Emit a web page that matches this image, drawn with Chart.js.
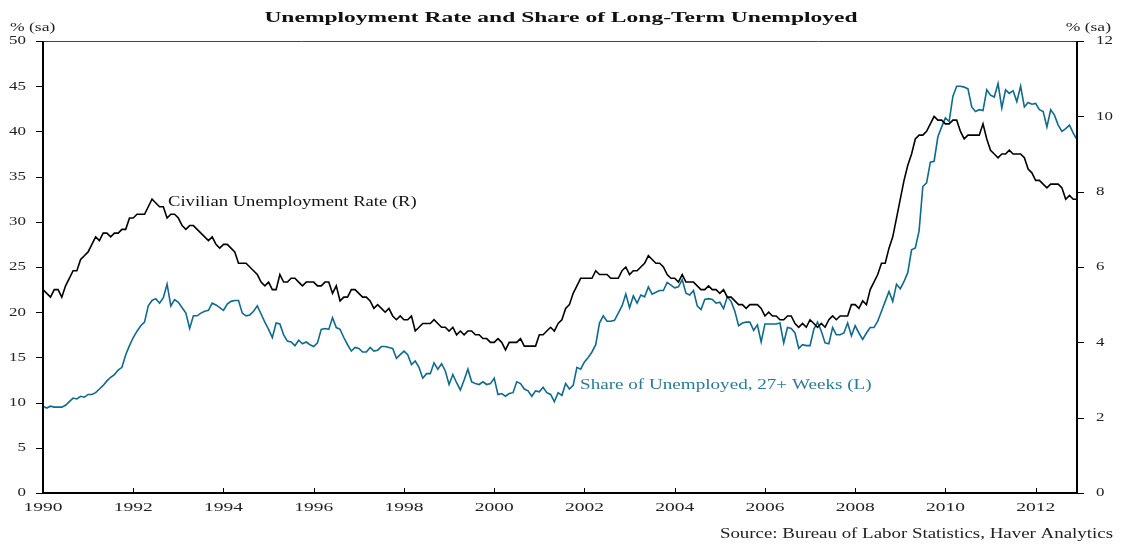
<!DOCTYPE html>
<html>
<head>
<meta charset="utf-8">
<title>Unemployment Rate and Share of Long-Term Unemployed</title>
<script src="https://cdn.jsdelivr.net/npm/chart.js@4.4.0/dist/chart.umd.min.js"></script>
<style>
  html, body { margin: 0; padding: 0; background: #fff; }
  #wrap { width: 1123px; height: 545px; }
</style>
</head>
<body>
<div id="wrap"><canvas id="chart" width="1123" height="545"></canvas></div>
<script>
// monthly data, Jan 1990 - Dec 2012
const startYear = 1990;
const yearTicks = [1990, 1992, 1994, 1996, 1998, 2000, 2002, 2004, 2006, 2008, 2010, 2012];
const leftTicks = [0, 5, 10, 15, 20, 25, 30, 35, 40, 45, 50];
const rightTicks = [0, 2, 4, 6, 8, 10, 12];

// Civilian unemployment rate, % (right axis)
const unemploymentRate = [
  5.4, 5.3, 5.2, 5.4, 5.4, 5.2, 5.5, 5.7, 5.9, 5.9, 6.2, 6.3,
  6.4, 6.6, 6.8, 6.7, 6.9, 6.9, 6.8, 6.9, 6.9, 7.0, 7.0, 7.3,
  7.3, 7.4, 7.4, 7.4, 7.6, 7.8, 7.7, 7.6, 7.6, 7.3, 7.4, 7.4,
  7.3, 7.1, 7.0, 7.1, 7.1, 7.0, 6.9, 6.8, 6.7, 6.8, 6.6, 6.5,
  6.6, 6.6, 6.5, 6.4, 6.1, 6.1, 6.1, 6.0, 5.9, 5.8, 5.6, 5.5,
  5.6, 5.4, 5.4, 5.8, 5.6, 5.6, 5.7, 5.7, 5.6, 5.5, 5.6, 5.6,
  5.6, 5.5, 5.5, 5.6, 5.6, 5.3, 5.5, 5.1, 5.2, 5.2, 5.4, 5.4,
  5.3, 5.2, 5.2, 5.1, 4.9, 5.0, 4.9, 4.8, 4.9, 4.7, 4.6, 4.7,
  4.6, 4.6, 4.7, 4.3, 4.4, 4.5, 4.5, 4.5, 4.6, 4.5, 4.4, 4.4,
  4.3, 4.4, 4.2, 4.3, 4.2, 4.3, 4.3, 4.2, 4.2, 4.1, 4.1, 4.0,
  4.0, 4.1, 4.0, 3.8, 4.0, 4.0, 4.0, 4.1, 3.9, 3.9, 3.9, 3.9,
  4.2, 4.2, 4.3, 4.4, 4.3, 4.5, 4.6, 4.9, 5.0, 5.3, 5.5, 5.7,
  5.7, 5.7, 5.7, 5.9, 5.8, 5.8, 5.8, 5.7, 5.7, 5.7, 5.9, 6.0,
  5.8, 5.9, 5.9, 6.0, 6.1, 6.3, 6.2, 6.1, 6.1, 6.0, 5.8, 5.7,
  5.7, 5.6, 5.8, 5.6, 5.6, 5.6, 5.5, 5.4, 5.4, 5.5, 5.4, 5.4,
  5.3, 5.4, 5.2, 5.2, 5.1, 5.0, 5.0, 4.9, 5.0, 5.0, 5.0, 4.9,
  4.7, 4.8, 4.7, 4.7, 4.6, 4.6, 4.7, 4.7, 4.5, 4.4, 4.5, 4.4,
  4.6, 4.5, 4.4, 4.5, 4.4, 4.6, 4.7, 4.6, 4.7, 4.7, 4.7, 5.0,
  5.0, 4.9, 5.1, 5.0, 5.4, 5.6, 5.8, 6.1, 6.1, 6.5, 6.8, 7.3,
  7.8, 8.3, 8.7, 9.0, 9.4, 9.5, 9.5, 9.6, 9.8, 10.0, 9.9, 9.9,
  9.8, 9.8, 9.9, 9.9, 9.6, 9.4, 9.5, 9.5, 9.5, 9.5, 9.8, 9.4,
  9.1, 9.0, 8.9, 9.0, 9.0, 9.1, 9.0, 9.0, 9.0, 8.9, 8.6, 8.5,
  8.3, 8.3, 8.2, 8.1, 8.2, 8.2, 8.2, 8.1, 7.8, 7.9, 7.8, 7.8
];

// Share of unemployed out of work 27+ weeks, % (left axis)
const longTermShare = [
  9.6, 9.4, 9.6, 9.5, 9.5, 9.5, 9.7, 10.1, 10.5, 10.4, 10.7, 10.6,
  10.9, 10.9, 11.1, 11.5, 11.9, 12.4, 12.8, 13.1, 13.6, 13.9, 15.3, 16.3,
  17.2, 17.9, 18.5, 18.9, 20.7, 21.3, 21.5, 21.0, 21.6, 23.1, 20.7, 21.4,
  21.1, 20.5, 19.9, 18.2, 19.6, 19.6, 19.9, 20.1, 20.2, 21.0, 20.8, 20.5,
  20.2, 20.9, 21.2, 21.3, 21.3, 19.9, 19.6, 19.7, 20.1, 20.7, 19.8, 18.9,
  18.1, 17.2, 18.8, 18.7, 17.5, 16.8, 16.7, 16.3, 16.9, 16.5, 16.7, 16.4,
  16.2, 16.6, 18.1, 18.2, 18.1, 19.4, 18.3, 18.1, 17.2, 16.4, 15.7, 16.1,
  16.0, 15.6, 15.6, 16.1, 15.7, 15.8, 16.2, 16.2, 16.1, 16.0, 14.9, 15.3,
  15.7, 15.3, 14.2, 14.6, 13.9, 12.7, 13.2, 13.2, 14.4, 13.7, 14.3, 13.5,
  12.0, 13.1, 12.2, 11.4, 12.5, 13.7, 12.3, 12.1, 12.0, 12.3, 12.0, 12.1,
  12.7, 10.9, 11.0, 10.7, 11.0, 11.1, 12.3, 12.1, 11.5, 11.3, 10.7, 11.3,
  11.2, 11.7, 11.1, 10.9, 10.1, 11.1, 10.8, 12.1, 11.5, 11.9, 13.9, 13.7,
  14.5, 15.0, 15.6, 16.4, 18.8, 19.6, 19.0, 19.0, 19.1, 19.9, 20.7, 22.0,
  20.5, 21.8, 21.0, 21.9, 21.7, 22.8, 22.0, 22.2, 22.4, 22.4, 23.3, 23.0,
  22.7, 22.8, 23.6, 22.1, 21.9, 22.4, 20.7, 20.3, 21.4, 21.5, 21.4, 21.0,
  21.1, 20.4, 21.7, 21.2, 20.1, 18.5, 18.8, 18.9, 18.9, 18.0, 18.6, 16.7,
  18.7, 18.7, 18.7, 18.7, 18.8, 16.6, 18.3, 18.2, 17.7, 16.0, 16.4, 16.3,
  16.3, 18.1, 18.9, 17.9, 16.6, 16.5, 18.3, 17.5, 17.5, 17.7, 18.8, 17.4,
  18.5, 17.7, 17.0, 17.7, 18.3, 18.3, 19.0, 20.1, 21.2, 22.3, 21.2, 23.1,
  22.6, 23.4, 24.4, 26.9, 27.1, 29.0, 33.9, 34.3, 36.6, 36.7, 39.4, 40.5,
  41.5, 41.1, 43.9, 45.0, 45.0, 44.9, 44.7, 42.7, 42.2, 42.4, 42.3, 44.6,
  44.0, 43.8, 45.3, 42.6, 44.6, 44.2, 44.5, 43.3, 45.0, 42.7, 43.2, 43.0,
  43.1, 42.4, 42.2, 40.5, 42.4, 41.8, 40.7, 40.0, 40.3, 40.7, 39.8, 39.1
];

const toPoints = arr => arr.map((v, i) => ({ x: startYear + i / 12, y: v }));

const SERIF = '"Liberation Serif", "Times New Roman", serif';
const BLUE = '#0f6a8d';

// the original's lettering is stretched sideways, so widen text with a scale
function wideText(ctx, text, x, y, align, sx) {
  ctx.save();
  ctx.translate(x, y);
  ctx.scale(sx, 1);
  ctx.textAlign = align;
  ctx.fillText(text, 0, 0);
  ctx.restore();
}

const decor = {
  id: 'decor',
  afterDraw(chart) {
    const ctx = chart.ctx;
    const a = chart.chartArea;
    const xs = chart.scales.x, yl = chart.scales.yL, yr = chart.scales.yR;

    ctx.save();
    // frame: thin top rule, heavier axes
    ctx.strokeStyle = '#444';
    ctx.lineWidth = 1;
    ctx.beginPath();
    ctx.moveTo(a.left, a.top + 0.5);
    ctx.lineTo(a.right, a.top + 0.5);
    ctx.stroke();
    ctx.strokeStyle = '#000';
    ctx.lineWidth = 2;
    ctx.beginPath();
    ctx.moveTo(a.left, a.top);
    ctx.lineTo(a.left, a.bottom);
    ctx.lineTo(a.right, a.bottom);
    ctx.lineTo(a.right, a.top);
    ctx.stroke();

    // tick marks (y outward, x inward)
    ctx.lineWidth = 1;
    ctx.beginPath();
    leftTicks.forEach(v => {
      const py = Math.round(yl.getPixelForValue(v)) + 0.5;
      ctx.moveTo(a.left - 7, py);
      ctx.lineTo(a.left, py);
    });
    rightTicks.forEach(v => {
      const py = Math.round(yr.getPixelForValue(v)) + 0.5;
      ctx.moveTo(a.right, py);
      ctx.lineTo(a.right + 7, py);
    });
    yearTicks.forEach(v => {
      const px = Math.round(xs.getPixelForValue(v)) + 0.5;
      ctx.moveTo(px, a.bottom);
      ctx.lineTo(px, a.bottom - 5);
    });
    ctx.stroke();

    // tick labels
    ctx.fillStyle = '#222';
    ctx.font = '13px ' + SERIF;
    ctx.textBaseline = 'middle';
    leftTicks.forEach(v => wideText(ctx, String(v), a.left - 17, yl.getPixelForValue(v), 'right', 1.3));
    rightTicks.forEach(v => wideText(ctx, String(v), a.right + 19, yr.getPixelForValue(v), 'left', 1.3));
    yearTicks.forEach(v => wideText(ctx, String(v), xs.getPixelForValue(v), a.bottom + 15, 'center', 1.5));

    // unit labels and source
    ctx.textBaseline = 'alphabetic';
    wideText(ctx, '% (sa)', 10, 31, 'left', 1.35);
    wideText(ctx, '% (sa)', 1111, 31, 'right', 1.35);
    ctx.font = '14px ' + SERIF;
    wideText(ctx, 'Source: Bureau of Labor Statistics, Haver Analytics', 1113, 538, 'right', 1.35);

    // series labels
    ctx.fillStyle = '#111';
    wideText(ctx, 'Civilian Unemployment Rate (R)', 168, 206, 'left', 1.33);
    ctx.fillStyle = '#2b7a98';
    wideText(ctx, 'Share of Unemployed, 27+ Weeks (L)', 580, 389, 'left', 1.365);

    // title
    ctx.fillStyle = '#111';
    ctx.font = 'bold 14px ' + SERIF;
    wideText(ctx, 'Unemployment Rate and Share of Long-Term Unemployed', 561, 22, 'center', 1.68);
    ctx.restore();
  }
};

new Chart(document.getElementById('chart'), {
  type: 'line',
  data: {
    datasets: [
      {
        label: 'Civilian Unemployment Rate (R)',
        data: toPoints(unemploymentRate),
        yAxisID: 'yR',
        borderColor: '#000',
        borderWidth: 1.6,
        pointRadius: 0,
        tension: 0
      },
      {
        label: 'Share of Unemployed, 27+ Weeks (L)',
        data: toPoints(longTermShare),
        yAxisID: 'yL',
        borderColor: BLUE,
        borderWidth: 1.6,
        pointRadius: 0,
        tension: 0
      }
    ]
  },
  options: {
    responsive: false,
    animation: false,
    layout: { padding: { top: 41, left: 0, right: 0, bottom: 0 } },
    plugins: {
      legend: { display: false },
      tooltip: { enabled: false },
      title: { display: false }
    },
    scales: {
      x: {
        type: 'linear',
        min: startYear,
        max: startYear + (unemploymentRate.length - 1) / 12,
        grid: { display: false },
        border: { display: false },
        ticks: { display: false },
        afterFit: s => { s.height = 52; }
      },
      yL: {
        position: 'left',
        min: 0,
        max: 50,
        grid: { display: false },
        border: { display: false },
        ticks: { display: false },
        afterFit: s => { s.width = 43; }
      },
      yR: {
        position: 'right',
        min: 0,
        max: 12,
        grid: { display: false },
        border: { display: false },
        ticks: { display: false },
        afterFit: s => { s.width = 46; }
      }
    }
  },
  plugins: [decor]
});
</script>
</body>
</html>
